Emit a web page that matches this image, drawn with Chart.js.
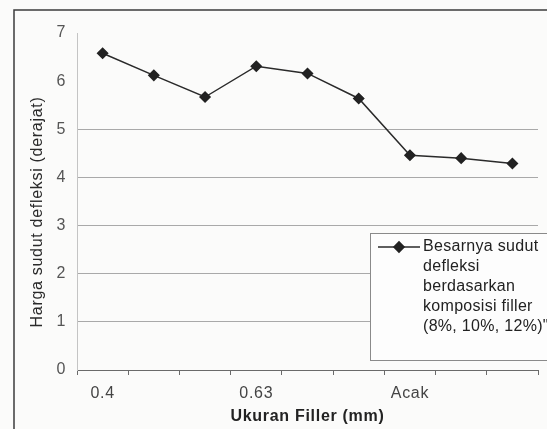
<!DOCTYPE html>
<html>
<head>
<meta charset="utf-8">
<title>Sudut defleksi</title>
<script src="https://cdn.jsdelivr.net/npm/chart.js@4.4.1/dist/chart.umd.min.js"></script>
<style>
  html, body { margin: 0; padding: 0; background: #fbfbfa; }
  #wrap { width: 547px; height: 429px; }
</style>
</head>
<body>
<div id="wrap"><canvas id="deflChart" width="547" height="429"></canvas></div>
<script>
// filler size groups, three compositions each (8%, 10%, 12%)
const sizeLabels = ['0.4', '', '', '0.63', '', '', 'Acak', '', ''];
const deflection = [6.58, 6.12, 5.67, 6.31, 6.16, 5.64, 4.46, 4.40, 4.29];
const legendLines = ['Besarnya sudut', 'defleksi', 'berdasarkan', 'komposisi filler', '(8%, 10%, 12%)"'];
const yTitle = 'Harga sudut defleksi (derajat)';

const FONT = "'Liberation Sans', Arial, sans-serif";
const LINE_COLOR = '#2a2a2a';

// slightly looser lettering, set before layout so measuring matches drawing
const spacing = {
  id: 'spacing',
  beforeLayout(chart) { chart.ctx.letterSpacing = '0.7px'; },
  beforeDraw(chart) { chart.ctx.letterSpacing = '0.7px'; }
};

// outer frame (left + top edges) and the vertical axis title
const framePlugin = {
  id: 'frame',
  afterDraw(chart) {
    const c = chart.ctx;
    c.save();
    c.strokeStyle = '#3c3c3c';
    c.lineWidth = 1.5;
    c.beginPath();
    c.moveTo(14, chart.height);
    c.lineTo(14, 10);
    c.lineTo(chart.width, 10);
    c.stroke();

    c.translate(38, chart.chartArea.top + 179);
    c.rotate(-Math.PI / 2);
    c.fillStyle = '#2a2a2a';
    c.font = '16px ' + FONT;
    c.textAlign = 'center';
    c.textBaseline = 'middle';
    c.fillText(yTitle, 0, 0);
    c.restore();
  }
};

// boxed legend with the long label wrapped over several lines
const boxLegend = {
  id: 'boxLegend',
  afterDraw(chart) {
    const c = chart.ctx;
    const area = chart.chartArea;
    const ds = chart.data.datasets[0];
    const x = area.left + 293;
    const y = area.top + 200;
    const w = chart.width - x + 5;
    const h = 127;

    c.save();
    c.fillStyle = '#fdfdfd';
    c.fillRect(x, y, w, h);
    c.strokeStyle = '#8a8a8a';
    c.lineWidth = 1;
    c.strokeRect(x + 0.5, y + 0.5, w, h);

    const rowY = y + 14;
    c.strokeStyle = ds.borderColor;
    c.lineWidth = 1.6;
    c.beginPath();
    c.moveTo(x + 8, rowY);
    c.lineTo(x + 50, rowY);
    c.stroke();
    c.fillStyle = ds.pointBackgroundColor;
    c.strokeStyle = ds.pointBorderColor;
    Chart.helpers.drawPoint(c, { pointStyle: 'rectRot', radius: 5, rotation: 0, borderWidth: 1 }, x + 29, rowY);

    c.fillStyle = '#222';
    c.font = '16px ' + FONT;
    c.letterSpacing = '0.3px';
    c.textBaseline = 'middle';
    legendLines.forEach((line, i) => {
      c.fillText(line, x + 53, rowY + i * 20);
    });
    c.restore();
  }
};

const ctx = document.getElementById('deflChart').getContext('2d');
const deflChart = new Chart(ctx, {
  type: 'line',
  data: {
    labels: sizeLabels,
    datasets: [{
      label: legendLines.join(' '),
      data: deflection,
      borderColor: LINE_COLOR,
      borderWidth: 1.5,
      pointStyle: 'rectRot',
      pointRadius: 5,
      pointBackgroundColor: '#222',
      pointBorderColor: '#222',
      tension: 0,
      fill: false
    }]
  },
  options: {
    responsive: false,
    animation: false,
    layout: { padding: { left: 14, top: 33, right: 9, bottom: 0 } },
    plugins: {
      legend: { display: false },
      tooltip: { enabled: false }
    },
    scales: {
      x: {
        offset: true,
        afterFit: (scale) => { scale.height = 59; },
        grid: {
          offset: true,
          drawOnChartArea: false,
          drawTicks: true,
          tickLength: 5,
          color: '#6a6a6a'
        },
        border: { color: '#6a6a6a' },
        ticks: {
          autoSkip: false,
          maxRotation: 0,
          padding: 9,
          color: '#444',
          font: { family: FONT, size: 16 }
        },
        title: {
          display: true,
          text: 'Ukuran Filler (mm)',
          color: '#222',
          font: { family: FONT, size: 16, weight: 'bold' },
          padding: { top: 0, bottom: 3 }
        }
      },
      y: {
        min: 0,
        max: 7,
        afterFit: (scale) => { scale.width = 63; },
        grid: {
          drawTicks: false,
          color: (c) => (c.tick.value >= 1 && c.tick.value <= 5) ? '#a9a9a9' : 'rgba(0,0,0,0)'
        },
        border: { color: '#c4c4c4' },
        ticks: {
          stepSize: 1,
          padding: 11,
          color: '#555',
          font: { family: FONT, size: 16 }
        }
      }
    }
  },
  plugins: [spacing, framePlugin, boxLegend]
});
</script>
</body>
</html>
